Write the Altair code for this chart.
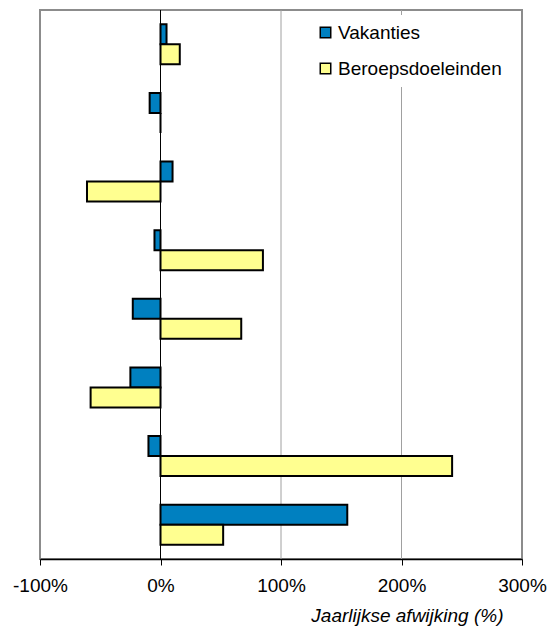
import altair as alt
import pandas as pd

groups = ["1", "2", "3", "4", "5", "6", "7", "8"]
series = ["Vakanties", "Beroepsdoeleinden"]
vakanties = [5, -9, 10, -5, -23, -25, -10, 155]
beroeps = [16, 0, -61, 85, 67, -58, 242, 52]
x_ticks = [-100, 0, 100, 200, 300]
grid_vals = [100, 200]
zero_val = [0]

rows = []
for g, v, b in zip(groups, vakanties, beroeps):
    rows.append({"groep": g, "reeks": series[0], "waarde": v})
    rows.append({"groep": g, "reeks": series[1], "waarde": b})
df = pd.DataFrame(rows)

xscale = alt.Scale(domain=[-100, 300], nice=False, zero=False)

xaxis = alt.Axis(
    values=x_ticks,
    labelExpr="datum.value + '%'",
    labelFlush=False,
    labelOverlap=False,
    grid=False,
    domainColor="black",
    domainWidth=1.5,
    tickColor="black",
    tickWidth=1,
    tickSize=6,
    labelFontSize=19,
    labelColor="black",
    labelPadding=11,
    title="Jaarlijkse afwijking (%)",
    titleFontStyle="italic",
    titleFontWeight="normal",
    titleFontSize=19,
    titleColor="black",
    titleX=463,
    titleY=62,
    titleAlign="right",
    titleBaseline="alphabetic",
)

grid = alt.Chart(pd.DataFrame({"v": grid_vals})).mark_rule(
    color="#a0a0a0", strokeWidth=1
).encode(x=alt.X("v:Q", scale=xscale, axis=xaxis))

zero = alt.Chart(pd.DataFrame({"v": zero_val})).mark_rule(
    color="black", strokeWidth=1
).encode(x=alt.X("v:Q", scale=xscale))

bars = alt.Chart(df).mark_bar(stroke="black", strokeWidth=2).encode(
    x=alt.X("waarde:Q", scale=xscale),
    y=alt.Y(
        "groep:N",
        sort=groups,
        axis=None,
        scale=alt.Scale(paddingInner=0.417, paddingOuter=0.2085),
    ),
    yOffset=alt.YOffset("reeks:N", sort=series, scale=alt.Scale(paddingInner=0, paddingOuter=0)),
    color=alt.Color(
        "reeks:N",
        sort=series,
        scale=alt.Scale(domain=series, range=["#0080C0", "#FFFF90"]),
        legend=alt.Legend(
            title=None,
            orient="none",
            legendX=268,
            legendY=5,
            fillColor="white",
            padding=8,
            symbolType="square",
            symbolSize=110,
            symbolStrokeColor="black",
            symbolStrokeWidth=1.5,
            symbolOpacity=1,
            labelFontSize=19,
            labelColor="black",
            labelOffset=3,
            labelLimit=400,
            rowPadding=16,
        ),
    ),
)

chart = (
    alt.layer(grid, zero, bars)
    .properties(
        width=482,
        height=549,
        autosize=alt.AutoSizeParams(type="none"),
        padding={"left": 32, "top": 2, "right": 25, "bottom": 67},
    )
    .configure(font="Liberation Sans")
    .configure_view(stroke="#8c8c8c", strokeWidth=2)
)

chart.save("out.html", embed_options={"renderer": "svg", "actions": False})
